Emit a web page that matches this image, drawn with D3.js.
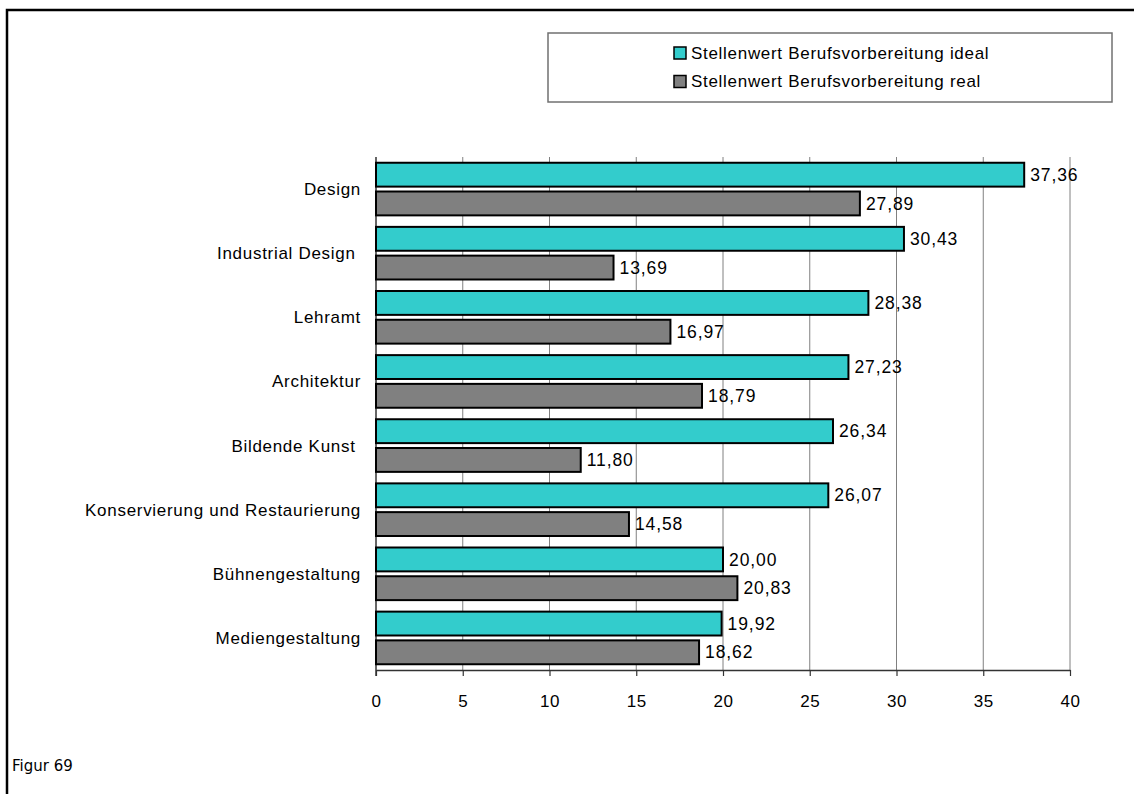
<!DOCTYPE html>
<meta charset="utf-8">
<style>

body {
  margin: 0;
  background-color: white;
  overflow: hidden;
}

text {
  font-family: "Liberation Sans", Arial, sans-serif;
  fill: black;
  white-space: pre;
}

</style>
<body>

<script src="https://cdn.jsdelivr.net/npm/d3@7"></script>
<script>

var categories = ["Design", "Industrial Design ", "Lehramt", "Architektur", "Bildende Kunst ",
                  "Konservierung und Restaurierung", "Bühnengestaltung", "Mediengestaltung"];
var seriesNames = ["Stellenwert Berufsvorbereitung ideal", "Stellenwert Berufsvorbereitung real"];
var idealValues = [37.36, 30.43, 28.38, 27.23, 26.34, 26.07, 20.00, 19.92];
var realValues  = [27.89, 13.69, 16.97, 18.79, 11.80, 14.58, 20.83, 18.62];
var xTicks = [0, 5, 10, 15, 20, 25, 30, 35, 40];
var footnote = "Figur 69";

var colors = ["#33cccc", "#808080"];

var width = 1139,
    height = 794;

var svg = d3.select("body").append("svg")
    .attr("width", width)
    .attr("height", height);

// Outer frame, only left and top edges are visible.
svg.append("path")
    .attr("d", "M7,794V10H1134")
    .attr("fill", "none")
    .attr("stroke", "black")
    .attr("stroke-width", 2.5);

var x = d3.scaleLinear()
    .domain([0, 40])
    .range([376, 1070]);

var y = d3.scaleBand()
    .domain(categories)
    .range([157, 670]);

var ySub = d3.scaleBand()
    .domain([0, 1])
    .range([0, y.bandwidth()])
    .paddingInner(0.17)
    .paddingOuter(0.2);

// Grid lines
svg.append("g")
  .selectAll("line")
    .data(xTicks.slice(1))
  .enter().append("line")
    .attr("x1", function(d) { return x(d); })
    .attr("x2", function(d) { return x(d); })
    .attr("y1", 157)
    .attr("y2", 670)
    .attr("stroke", "#808080")
    .attr("stroke-width", 1);

// X axis
var xAxis = svg.append("g")
    .attr("transform", "translate(0,670)")
    .call(d3.axisBottom(x).tickValues(xTicks).tickSize(6).tickPadding(19).tickSizeOuter(0));

xAxis.select(".domain").attr("stroke", "#333").attr("stroke-width", 1.5);
xAxis.selectAll(".tick line").attr("stroke", "#333").attr("stroke-width", 1.2);
xAxis.selectAll("text")
    .style("font-family", "\"Liberation Sans\", Arial, sans-serif")
    .style("font-size", "17px")
    .style("letter-spacing", "0.5px")
    .attr("fill", "black");

// Y axis line
svg.append("line")
    .attr("x1", x(0))
    .attr("x2", x(0))
    .attr("y1", 157)
    .attr("y2", 676)
    .attr("stroke", "#333")
    .attr("stroke-width", 1.5);

var rows = categories.map(function(c, i) {
  return { name: c, values: [idealValues[i], realValues[i]] };
});

var group = svg.append("g")
  .selectAll("g")
    .data(rows)
  .enter().append("g")
    .attr("transform", function(d) { return "translate(0," + y(d.name) + ")"; });

group.append("text")
    .attr("x", 361)
    .attr("y", y.bandwidth() / 2)
    .attr("dy", "0.35em")
    .attr("text-anchor", "end")
    .style("font-size", "17px")
    .style("letter-spacing", "0.7px")
    .text(function(d) { return d.name; });

var bar = group.selectAll(".bar")
    .data(function(d) { return d.values; })
  .enter().append("g")
    .attr("class", "bar");

bar.append("rect")
    .attr("x", x(0))
    .attr("y", function(d, i) { return ySub(i); })
    .attr("width", function(d) { return x(d) - x(0); })
    .attr("height", ySub.bandwidth())
    .attr("fill", function(d, i) { return colors[i]; })
    .attr("stroke", "black")
    .attr("stroke-width", 2);

bar.append("text")
    .attr("x", function(d) { return x(d) + 6; })
    .attr("y", function(d, i) { return ySub(i) + ySub.bandwidth() / 2; })
    .attr("dy", "0.35em")
    .style("font-size", "17.5px")
    .style("letter-spacing", "0.9px")
    .text(function(d) { return d3.format(".2f")(d).replace(".", ","); });

// Legend
var legend = svg.append("g");

legend.append("rect")
    .attr("x", 548)
    .attr("y", 33)
    .attr("width", 564)
    .attr("height", 69)
    .attr("fill", "white")
    .attr("stroke", "#707070")
    .attr("stroke-width", 1.5);

var item = legend.selectAll(".item")
    .data(seriesNames)
  .enter().append("g")
    .attr("class", "item")
    .attr("transform", function(d, i) { return "translate(674," + (53 + i * 28.5) + ")"; });

item.append("rect")
    .attr("x", 0)
    .attr("y", -6)
    .attr("width", 12)
    .attr("height", 12)
    .attr("fill", function(d, i) { return colors[i]; })
    .attr("stroke", "black")
    .attr("stroke-width", 1.5);

item.append("text")
    .attr("x", 17)
    .attr("dy", "0.35em")
    .style("font-size", "17px")
    .style("letter-spacing", "0.7px")
    .text(function(d) { return d; });

svg.append("text")
    .attr("x", 12)
    .attr("y", 771)
    .style("font-family", "\"DejaVu Sans\", Verdana, sans-serif")
    .style("font-size", "15px")
    .text(footnote);

</script>
